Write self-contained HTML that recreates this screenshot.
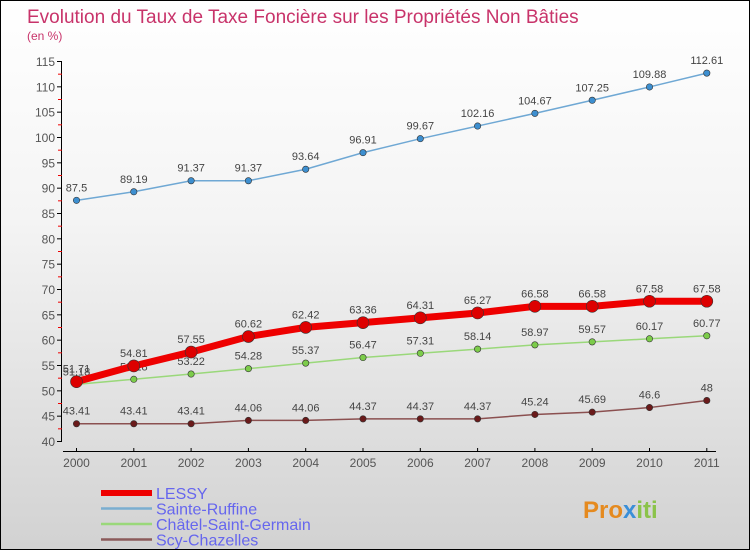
<!DOCTYPE html>
<html><head><meta charset="utf-8"><style>
body{margin:0}
#c{width:750px;height:550px;position:relative;box-sizing:border-box;border:1px solid #000;background:linear-gradient(#ffffff 0%,#f4f4f4 40%,#d2d2d2 100%);overflow:hidden;font-family:"Liberation Sans",sans-serif}
</style></head><body>
<div id="c">
<svg id="s" width="750" height="550"></svg>
</div>
<script>
const years=["2000","2001","2002","2003","2004","2005","2006","2007","2008","2009","2010","2011"];
const lessy=[51.71,54.81,57.55,60.62,62.42,63.36,64.31,65.27,66.58,66.58,67.58,67.58];
const sainte=[87.5,89.19,91.37,91.37,93.64,96.91,99.67,102.16,104.67,107.25,109.88,112.61];
const chatel=[51.18,52.18,53.22,54.28,55.37,56.47,57.31,58.14,58.97,59.57,60.17,60.77];
const scy=[43.41,43.41,43.41,44.06,44.06,44.37,44.37,44.37,45.24,45.69,46.6,48];
const yTicks=[40,45,50,55,60,65,70,75,80,85,90,95,100,105,110,115];
const lessyLabels=["51.71","54.81","57.55","60.62","62.42","63.36","64.31","65.27","66.58","66.58","67.58","67.58"];
const sainteLabels=["87.5","89.19","91.37","91.37","93.64","96.91","99.67","102.16","104.67","107.25","109.88","112.61"];
const chatelLabels=["51.18","52.18","53.22","54.28","55.37","56.47","57.31","58.14","58.97","59.57","60.17","60.77"];
const scyLabels=["43.41","43.41","43.41","44.06","44.06","44.37","44.37","44.37","45.24","45.69","46.6","48"];
const NS="http://www.w3.org/2000/svg";
const s=document.getElementById('s');
const X=i=>75.5+i*57.3;
const Y=v=>440-(v-40)*(380/75);
function el(t,a,p){const e=document.createElementNS(NS,t);for(const k in a)e.setAttribute(k,a[k]);(p||s).appendChild(e);return e;}
function txt(x,y,t,a,p){const e=el('text',Object.assign({x:x,y:y},a),p);e.textContent=t;return e;}
let e;
e=txt(26,22,"Evolution du Taux de Taxe Foncière sur les Propriétés Non Bâties",{fill:"#c8336a","font-size":"19"});

e=txt(26,39,"(en %)",{fill:"#c8336a","font-size":"12"});

e=el('line',{x1:60.5,y1:60,x2:60.5,y2:440,stroke:"#000"});

yTicks.forEach((v,i)=>{
  el('line',{x1:56,x2:61,y1:Y(v)+.5,y2:Y(v)+.5,stroke:"#000"});
  if(i<yTicks.length-1)el('line',{x1:57,x2:61,y1:Y(v+2.5)+.5,y2:Y(v+2.5)+.5,stroke:"#e00"});
  e=txt(54,Y(v)+5,String(v),{fill:"#555","font-size":"12","text-anchor":"end"});
  
});
e=el('line',{x1:62,y1:450.5,x2:715,y2:450.5,stroke:"#000"});

years.forEach((y,i)=>{
  el('line',{x1:X(i),x2:X(i),y1:447,y2:451,stroke:"#000"});
  e=txt(X(i),466,y,{fill:"#555","font-size":"12","text-anchor":"middle"});
  
});
function series(vals,labels,color,dot,w,r,name){
  const g=el('g',{});
  
  el('polyline',{points:vals.map((v,i)=>X(i)+","+Y(v)).join(" "),fill:"none",stroke:color,"stroke-width":w},g);
  vals.forEach((v,i)=>{
    const c=el('circle',{cx:X(i),cy:Y(v),r:r,fill:dot,stroke:"#333","stroke-width":.6},g);
    
    const t=txt(X(i),Y(v)-9,labels[i],{fill:"#444","font-size":"11","text-anchor":"middle"},g);
    
  });
}
series(sainte,sainteLabels,"#6fa8d4","#3d8fd0",1.5,3.2,"sainte-ruffine");
series(scy,scyLabels,"#8b5050","#6a1a1a",1.5,3.2,"scy-chazelles");
series(chatel,chatelLabels,"#9ad87a","#7ccc4a",1.5,3.2,"chatel-saint-germain");
series(lessy,lessyLabels,"#ee0000","#dd0000",7,6,"lessy");
const leg=[["LESSY","#ee0000",6],["Sainte-Ruffine","#7aaed0",2.5],["Châtel-Saint-Germain","#9ad87a",2.5],["Scy-Chazelles","#8b5a5a",2.5]];
leg.forEach((l,i)=>{
  const g=el('g',{});
  
  const y=492+i*15.5;
  el('line',{x1:100,x2:151,y1:y,y2:y,stroke:l[1],"stroke-width":l[2]},g);
  txt(155,y+6,l[0],{fill:"#6666ee","font-size":"16"},g);
});
const logo=el('text',{x:582,y:517,"font-size":"24","font-weight":"bold"});


[["Pro","#e58a1f"],["x","#3a8fd8"],["iti","#8bc34a"]].forEach(p=>{const t=el('tspan',{fill:p[1]},logo);t.textContent=p[0];});
</script>
</body></html>
